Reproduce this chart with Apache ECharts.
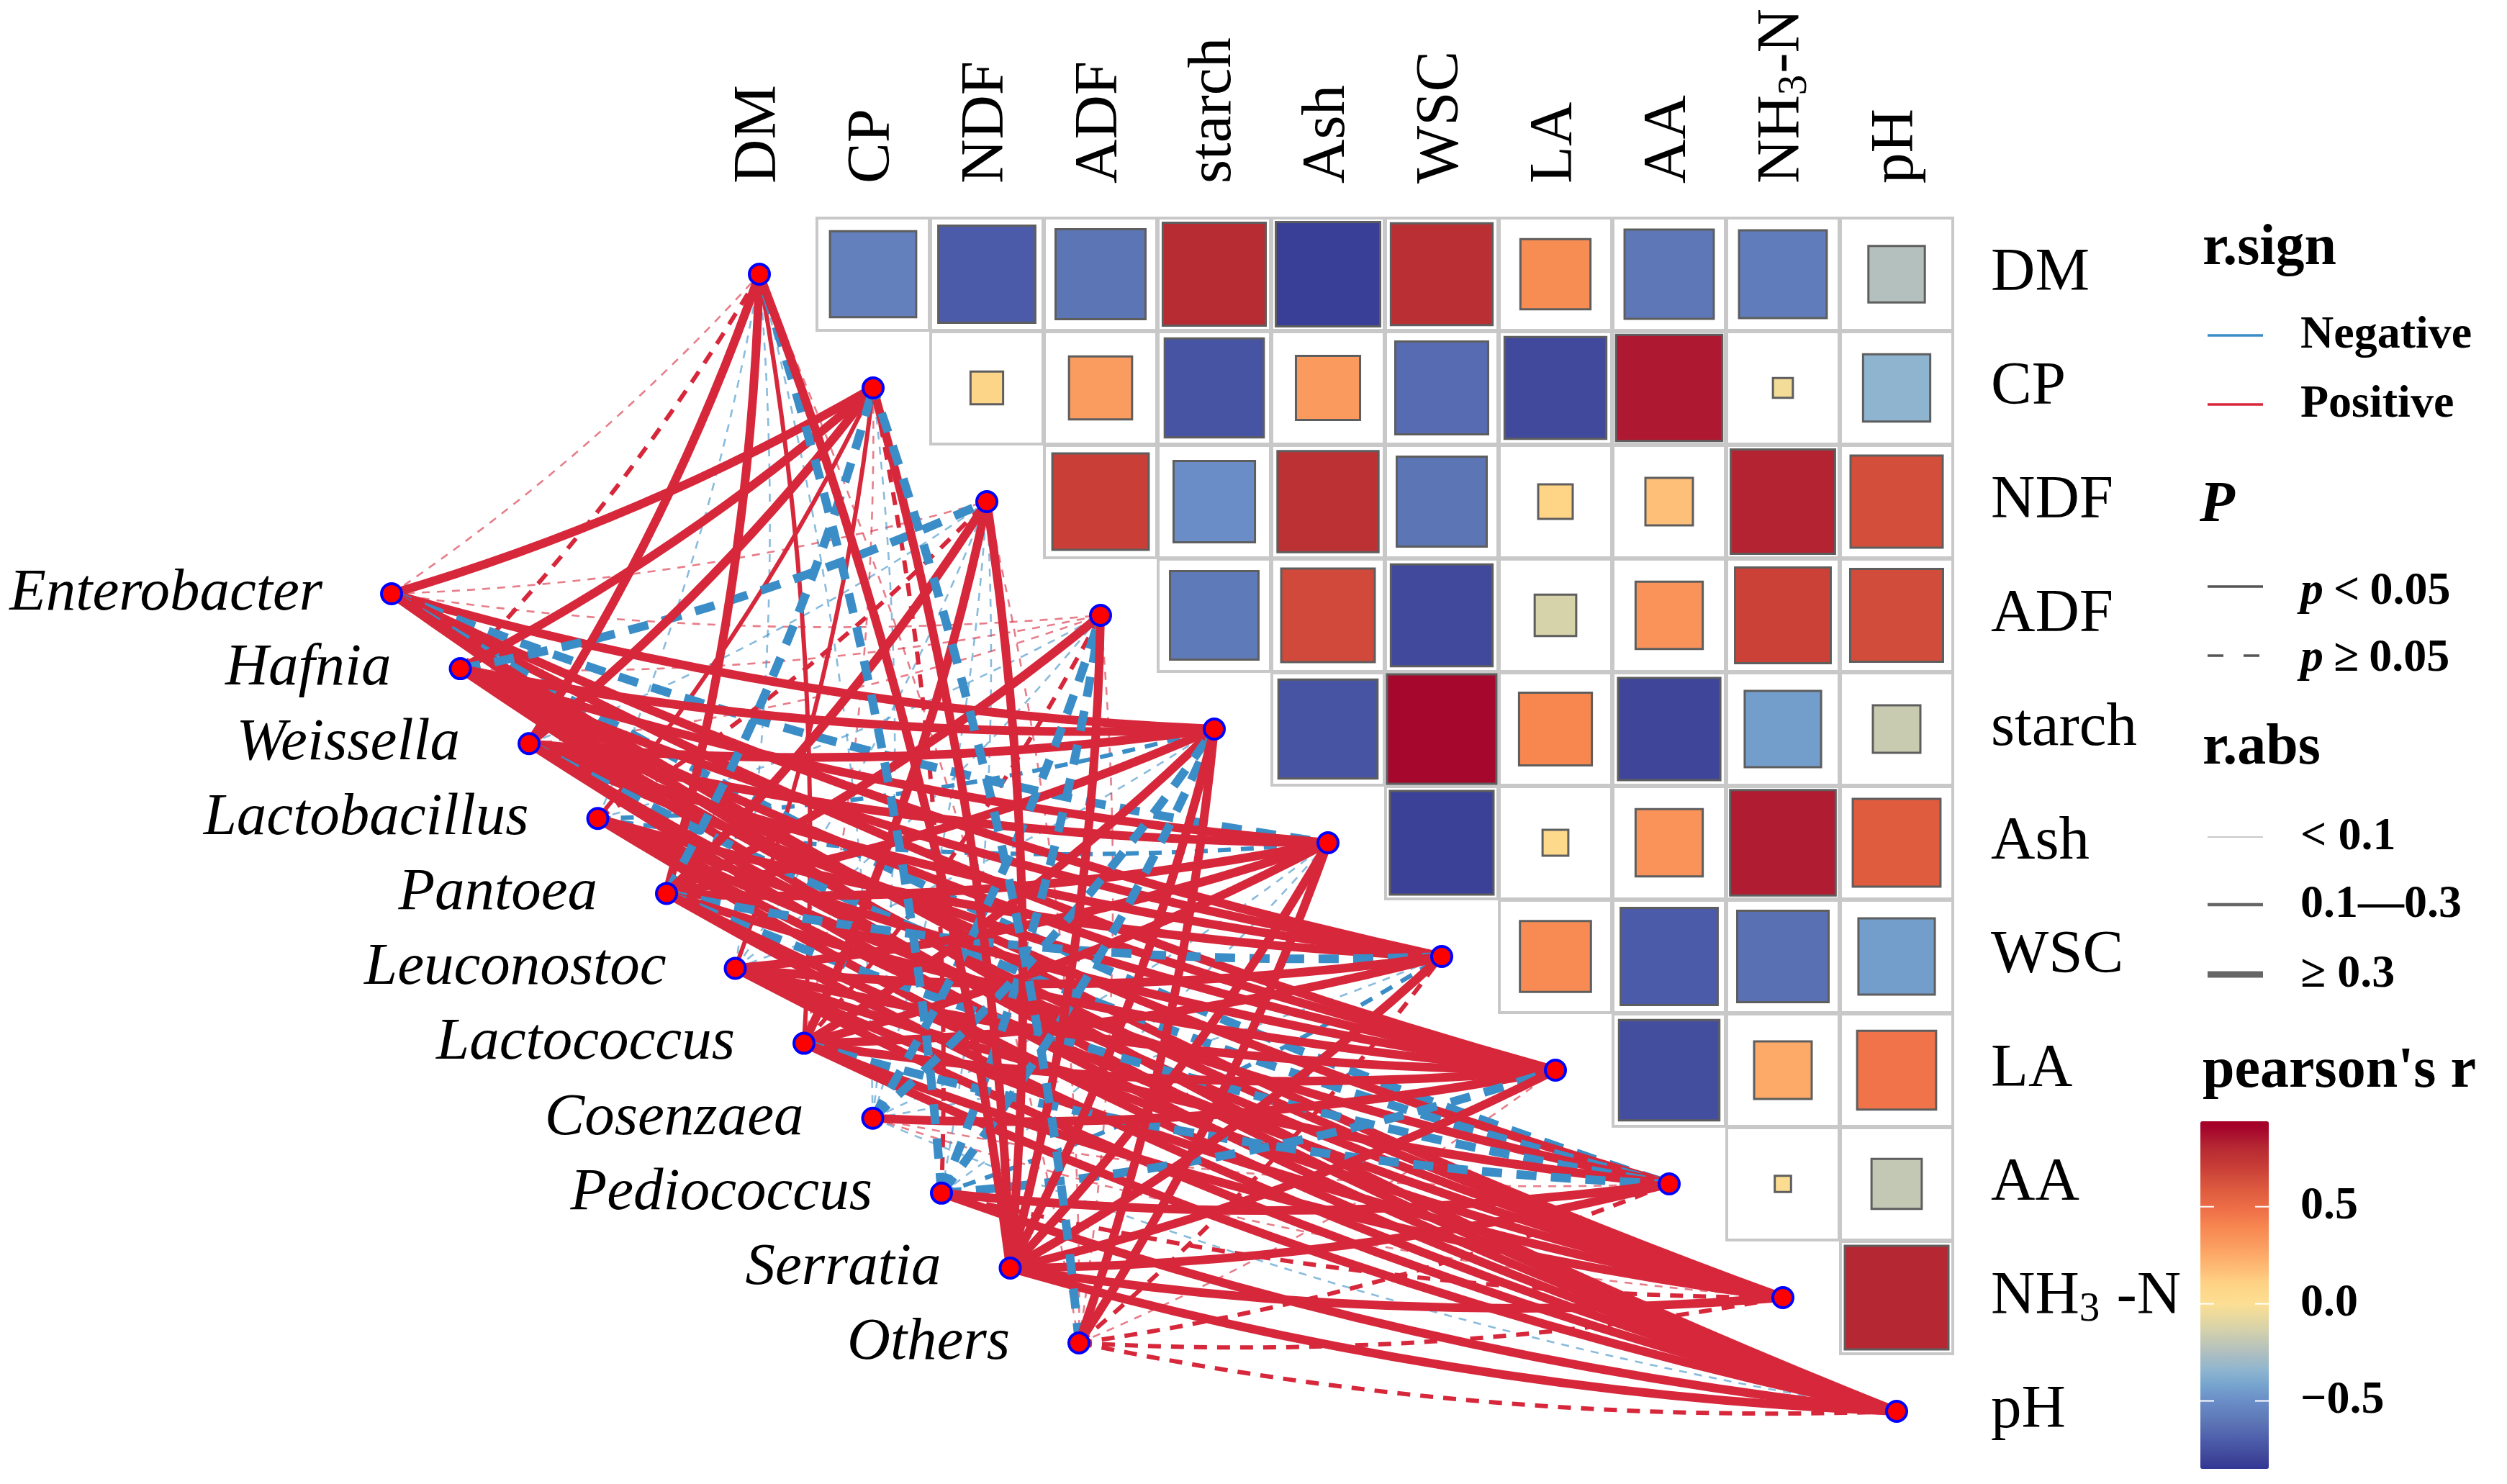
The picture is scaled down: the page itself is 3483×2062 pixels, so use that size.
<!DOCTYPE html>
<html><head><meta charset="utf-8">
<script src="https://cdn.jsdelivr.net/npm/echarts@6/dist/echarts.min.js"></script>
<style>html,body{margin:0;padding:0;background:#fff}#main{width:3483px;height:2062px}</style>
</head><body><div id="main"></div>
<script>
// ---------- DATA ----------
const variables = ['DM','CP','NDF','ADF','starch','Ash','WSC','LA','AA','NH3-N','pH'];
const genera = ['Enterobacter','Hafnia','Weissella','Lactobacillus','Pantoea','Leuconostoc','Lactococcus','Cosenzaea','Pediococcus','Serratia','Others'];
// Pearson r between variables (upper triangle, row i with columns i+1..10)
const corrDM     = [-0.56, -0.71, -0.61, 0.80, -0.82, 0.78, 0.37, -0.60, -0.58, -0.24];
const corrCP     = [0.08, 0.30, -0.74, 0.31, -0.65, -0.78, 0.85, -0.03, -0.34];
const corrNDF    = [0.70, -0.50, 0.77, -0.61, 0.09, 0.17, 0.82, 0.64];
const corrADF    = [-0.59, 0.66, -0.78, -0.13, 0.34, 0.69, 0.65];
const corrStarch = [-0.74, 0.90, 0.40, -0.79, -0.44, -0.17];
const corrAsh    = [-0.81, 0.05, 0.34, 0.84, 0.58];
const corrWSC    = [0.38, -0.71, -0.63, -0.44];
const corrLA     = [-0.76, 0.25, 0.47];
const corrAA     = [0.02, -0.19];
const corrNH3N   = [0.81];
// genus -> variable link r and p (order of variables)
const rEnterobacter  = [0.05, 0.42, 0.06, 0.04, 0.45, -0.34, 0.48, 0.51, -0.36, 0.52, 0.55];
const pEnterobacter  = [0.42, 0.01, 0.38, 0.55, 0.01, 0.07, 0.01, 0.01, 0.08, 0.01, 0.01];
const rHafnia        = [0.21, 0.44, -0.33, 0.05, 0.46, 0.43, 0.47, 0.50, 0.41, 0.53, 0.56];
const pHafnia        = [0.09, 0.01, 0.07, 0.48, 0.01, 0.01, 0.01, 0.01, 0.02, 0.01, 0.01];
const rWeissella     = [0.41, 0.45, -0.06, 0.07, 0.44, 0.46, 0.49, 0.52, -0.35, 0.55, 0.57];
const pWeissella     = [0.02, 0.01, 0.51, 0.36, 0.01, 0.01, 0.01, 0.01, 0.09, 0.01, 0.01];
const rLactobacillus = [-0.05, 0.22, 0.18, -0.06, -0.19, -0.17, 0.45, 0.48, 0.43, 0.52, 0.54];
const pLactobacillus = [0.56, 0.03, 0.12, 0.62, 0.14, 0.18, 0.01, 0.01, 0.02, 0.01, 0.01];
const rPantoea       = [0.43, -0.36, 0.47, 0.44, 0.48, 0.45, -0.33, 0.50, -0.37, 0.54, 0.56];
const pPantoea       = [0.01, 0.07, 0.01, 0.01, 0.01, 0.01, 0.08, 0.01, 0.06, 0.01, 0.01];
const rLeuconostoc   = [-0.04, 0.23, -0.07, -0.05, -0.06, 0.42, 0.46, 0.49, 0.41, 0.51, 0.53];
const pLeuconostoc   = [0.61, 0.04, 0.47, 0.58, 0.52, 0.01, 0.01, 0.01, 0.02, 0.01, 0.01];
const rLactococcus   = [0.24, 0.06, 0.45, 0.19, 0.47, 0.44, 0.48, 0.51, -0.34, 0.53, 0.55];
const pLactococcus   = [0.04, 0.44, 0.01, 0.11, 0.01, 0.01, 0.01, 0.01, 0.07, 0.01, 0.01];
const rCosenzaea     = [-0.07, -0.05, -0.08, -0.35, -0.33, -0.06, -0.05, 0.44, 0.06, 0.07, -0.04];
const pCosenzaea     = [0.47, 0.53, 0.41, 0.08, 0.09, 0.49, 0.57, 0.02, 0.39, 0.35, 0.61];
const rPediococcus   = [-0.34, 0.18, -0.06, -0.36, -0.32, -0.07, -0.16, -0.35, 0.43, 0.21, 0.47];
const pPediococcus   = [0.08, 0.13, 0.51, 0.07, 0.09, 0.46, 0.17, 0.08, 0.02, 0.11, 0.01];
const rSerratia      = [0.46, 0.48, 0.44, 0.47, 0.49, 0.45, 0.50, 0.52, 0.46, 0.55, 0.58];
const pSerratia      = [0.01, 0.01, 0.01, 0.01, 0.01, 0.01, 0.01, 0.01, 0.01, 0.01, 0.01];
const rOthers        = [0.05, -0.33, 0.06, 0.07, 0.42, 0.44, 0.18, 0.06, 0.21, 0.23, 0.25];
const pOthers        = [0.46, 0.08, 0.39, 0.43, 0.02, 0.02, 0.12, 0.41, 0.10, 0.09, 0.08];
const colorTicks = [0.5, 0.0, -0.5];

// ---------- BUILD ----------
const corrRows = [corrDM, corrCP, corrNDF, corrADF, corrStarch, corrAsh, corrWSC, corrLA, corrAA, corrNH3N];
const linkR = [rEnterobacter, rHafnia, rWeissella, rLactobacillus, rPantoea, rLeuconostoc, rLactococcus, rCosenzaea, rPediococcus, rSerratia, rOthers];
const linkP = [pEnterobacter, pHafnia, pWeissella, pLactobacillus, pPantoea, pLeuconostoc, pLactococcus, pCosenzaea, pPediococcus, pSerratia, pOthers];

const FONT = "'Liberation Serif','Times New Roman',serif";
const cellData = [], corrData = [];
corrRows.forEach((row, i) => row.forEach((r, m) => {
  const j = i + 1 + m;
  cellData.push([j, i]);
  corrData.push([j, i, r]);
}));

// genus node layout (data units of the heatmap grid)
const gx = k => -3.234 + 0.6044 * k;
const gy = k => 2.810 + 0.6589 * k;
const genusData = genera.map((g, k) => ({ value: [gx(k), gy(k)], name: g }));
const varNodeData = variables.map((v, j) => [j, j]);

const POS = '#D7273B', NEG = '#3A8DC6';
const WIDTH = [2.6, 6, 12];
const DASH = [[11, 10], [18, 14], [28, 20]];
const linkGroups = [[], [], []];
genera.forEach((g, k) => variables.forEach((v, j) => {
  const r = linkR[k][j], p = linkP[k][j], a = Math.abs(r);
  const cls = a < 0.1 ? 0 : (a < 0.3 ? 1 : 2);
  linkGroups[cls].push({
    coords: [[gx(k), gy(k)], [j, j]],
    lineStyle: { color: r >= 0 ? POS : NEG, width: WIDTH[cls], type: p >= 0.05 ? DASH[cls] : 'solid', opacity: cls === 0 ? 0.6 : 1 }
  });
}));

// colour scale (RdYlBu-like)
const stops = [[-0.85,'#313695'],[-0.8,'#3E4498'],[-0.72,'#4A58A7'],[-0.6,'#5E78B7'],[-0.5,'#6A8DC7'],[-0.42,'#76A4CE'],[-0.34,'#8FB5CF'],[-0.24,'#B3C0BE'],[-0.13,'#D6D2AA'],[0,'#FCDF93'],[0.1,'#FED386'],[0.25,'#FDAA68'],[0.3,'#FA9C60'],[0.4,'#F7864F'],[0.47,'#F0734A'],[0.58,'#DF5C3F'],[0.65,'#D24C3C'],[0.7,'#C93E36'],[0.8,'#B72B33'],[0.9,'#A5062D'],[0.94,'#A50026']];
const hex = h => [1,3,5].map(i => parseInt(h.substr(i,2),16));
function colorAt(v){
  if (v <= stops[0][0]) return stops[0][1];
  for (let i = 1; i < stops.length; i++) {
    if (v <= stops[i][0]) {
      const t = (v - stops[i-1][0]) / (stops[i][0] - stops[i-1][0]);
      const a = hex(stops[i-1][1]), b = hex(stops[i][1]);
      return 'rgb(' + a.map((x, n) => Math.round(x + (b[n]-x)*t)).join(',') + ')';
    }
  }
  return stops[stops.length-1][1];
}
const VMIN = -0.85, VMAX = 0.94;
const scaleColors = [];
for (let i = 0; i <= 120; i++) scaleColors.push(colorAt(VMIN + (VMAX - VMIN) * i / 120));

const isInt = v => Math.abs(v - Math.round(v)) < 1e-6;
const labelFmt = v => {
  if (!isInt(v)) return '';
  const n = variables[Math.round(v)];
  if (!n) return '';
  return n === 'NH3-N' ? '{n|NH}{s|3}{n|-N}' : '{n|' + n + '}';
};
const labelFmtRight = v => {
  if (!isInt(v)) return '';
  const n = variables[Math.round(v)];
  if (!n) return '';
  return n === 'NH3-N' ? '{n|NH}{s|3}{n| -N}' : '{n|' + n + '}';
};
const richAxis = {
  n: { fontFamily: FONT, fontSize: 85, color: '#000' },
  s: { fontFamily: FONT, fontSize: 57, color: '#000', padding: [34, 2, 0, 0] }
};

// legend graphics
const LX = 3060, LL1 = 3067, LL2 = 3144, LT = 3196;
const txt = (x, y, t, o = {}) => ({ type: 'text', x, y, style: Object.assign({ text: t, font: `bold ${o.size||64}px ${FONT}`, fill: '#000', verticalAlign: 'middle' }, o.style || {}) });
const seg = (y, color, w, dash) => ({ type: 'line', shape: { x1: LL1, y1: y, x2: LL2, y2: y }, style: { stroke: color, lineWidth: w, lineDash: dash || null } });
const barTop = 1558, barH = 483, barL = 3057, barW = 95;
const yOf = v => barTop + (VMAX - v) / (VMAX - VMIN) * barH;
const richP = { i: { font: `italic bold 64px ${FONT}` }, g: { font: `bold 64px ${FONT}`, padding: [0, 14, 0, 14] } };
const graphics = [
  txt(LX, 346, 'r.sign', { size: 80 }),
  seg(466, NEG, 3.5), txt(LT, 466, 'Negative'),
  seg(562, POS, 3.5), txt(LT, 562, 'Positive'),
  txt(3056, 703, 'P', { size: 80, style: { font: `italic bold 80px ${FONT}` } }),
  seg(815, '#555', 3.5),
  { type: 'text', x: LT, y: 822, style: { text: '{i|p}{g|<}0.05', rich: richP, font: `bold 64px ${FONT}`, fill: '#000', verticalAlign: 'middle' } },
  seg(911, '#555', 3.5, [22, 28]),
  { type: 'text', x: LT, y: 915, style: { text: '{i|p}{g|\u2265}0.05', rich: richP, font: `bold 64px ${FONT}`, fill: '#000', verticalAlign: 'middle' } },
  txt(LX, 1040, 'r.abs', { size: 80 }),
  seg(1163, '#C9C9C9', 2), txt(LT, 1163, '< 0.1'),
  seg(1257, '#666', 4.5), txt(LT, 1257, '0.1\u20140.3'),
  seg(1354, '#666', 9), txt(LT, 1354, '\u2265 0.3'),
  txt(LX, 1489, "pearson's r", { size: 80 })
];
colorTicks.forEach(v => {
  const y = yOf(v);
  graphics.push({ type: 'line', z: 100, shape: { x1: barL, y1: y, x2: barL + 19, y2: y }, style: { stroke: '#fff', lineWidth: 2 } });
  graphics.push({ type: 'line', z: 100, shape: { x1: barL + barW - 19, y1: y, x2: barL + barW, y2: y }, style: { stroke: '#fff', lineWidth: 2 } });
  graphics.push(txt(LT, y, (v < 0 ? '\u2212' : '') + Math.abs(v).toFixed(1)));
});

const lineSeries = linkGroups.map((d, cls) => ({
  type: 'lines', name: 'links' + cls, coordinateSystem: 'cartesian2d', data: d, z: 3 + cls * 0.1, silent: true,
  lineStyle: { curveness: -0.06, width: WIDTH[cls], opacity: cls === 0 ? 0.6 : 1 }
}));

const chart = echarts.init(document.getElementById('main'), null, { renderer: 'canvas' });
chart.setOption({
  backgroundColor: '#fff',
  animation: false,
  grid: { left: 344, top: 302, width: 2370, height: 1738, containLabel: false },
  xAxis: {
    type: 'value', min: -4.5, max: 10.5, interval: 0.5, position: 'top',
    axisLine: { show: false }, axisTick: { show: false }, splitLine: { show: false },
    axisLabel: { rotate: 90, margin: 47, formatter: labelFmt, rich: richAxis, showMinLabel: true, showMaxLabel: true }
  },
  yAxis: {
    type: 'value', min: -0.5, max: 10.5, interval: 0.5, inverse: true, position: 'right',
    axisLine: { show: false }, axisTick: { show: false }, splitLine: { show: false },
    axisLabel: { margin: 52, formatter: labelFmtRight, rich: richAxis }
  },
  visualMap: {
    type: 'continuous', seriesIndex: 1, dimension: 2, min: VMIN, max: VMAX,
    calculable: false, hoverLink: false, inRange: { color: scaleColors },
    left: barL, top: barTop, itemWidth: barW, itemHeight: barH, padding: 0, text: null,
    orient: 'vertical'
  },
  graphic: graphics,
  series: [
    { type: 'scatter', name: 'cells', data: cellData, symbol: 'rect', symbolSize: 156, silent: true, z: 1,
      itemStyle: { color: '#fff', borderColor: '#C8C8C8', borderWidth: 4, opacity: 1 } },
    { type: 'scatter', name: 'corr', data: corrData, symbol: 'rect', z: 2, silent: true,
      symbolSize: val => 160 * Math.sqrt(Math.abs(val[2])),
      itemStyle: { borderColor: '#5E5E5E', borderWidth: 3, opacity: 1 } },
    ...lineSeries,
    { type: 'scatter', name: 'vars', data: varNodeData, symbol: 'circle', symbolSize: 28, z: 5, silent: true,
      itemStyle: { color: '#FF0000', borderColor: '#0000FF', borderWidth: 4, opacity: 1 } },
    { type: 'scatter', name: 'genera', data: genusData, symbol: 'circle', symbolSize: 28, z: 5, silent: true,
      itemStyle: { color: '#FF0000', borderColor: '#0000FF', borderWidth: 4, opacity: 1 },
      label: { show: true, position: 'left', distance: 80, formatter: p => p.name,
        fontFamily: FONT, fontStyle: 'italic', fontSize: 83, color: '#000' } }
  ]
});
</script></body></html>
